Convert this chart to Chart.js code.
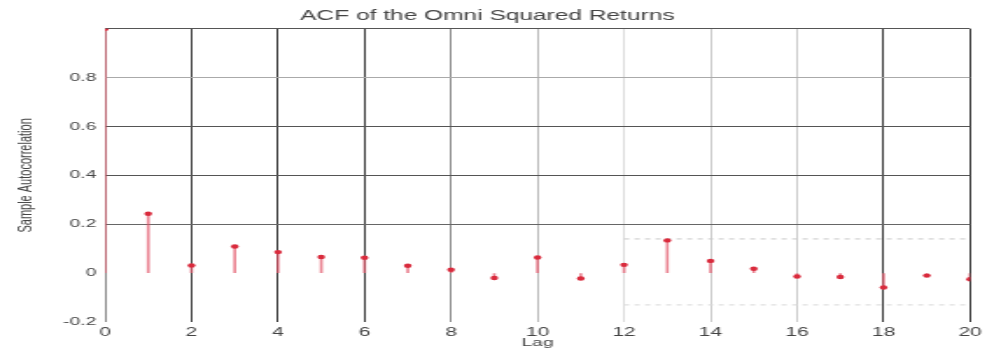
<!DOCTYPE html>
<html>
<head>
<meta charset="utf-8">
<script src="https://cdn.jsdelivr.net/npm/chart.js@4/dist/chart.umd.min.js"></script>
<style>
    body { margin: 0; background: #fff; }
    /* the figure is drawn narrow and stretched sideways */
    #acf { width: 987px !important; height: 355px !important; display: block; }
</style>
</head>
<body>
<canvas id="acf" width="564" height="355"></canvas>
<script>
// sample autocorrelation of the squared returns, lags 0..20
const lags = [0, 1, 2, 3, 4, 5, 6, 7, 8, 9, 10, 11, 12, 13, 14, 15, 16, 17, 18, 19, 20];
const acf = [1.0, 0.243, 0.031, 0.109, 0.086, 0.066, 0.063, 0.030, 0.014, -0.020, 0.064,
    -0.022, 0.034, 0.134, 0.050, 0.018, -0.014, -0.016, -0.059, -0.010, -0.025];

// confidence bounds, only the right part is visible
const boundLags = [12, 20];
const boundUpper = 0.14;
const boundLower = -0.13;

// axis ticks
const xTicks = [0, 2, 4, 6, 8, 10, 12, 14, 16, 18, 20];
const yTicks = [-0.2, 0, 0.2, 0.4, 0.6, 0.8, 1.0];
const yTickLabels = ['-0.2', '0', '0.2', '0.4', '0.6', '0.8', ''];

// grid line shades per tick
const xGridColors = ['#888', '#3a3a3a', '#3a3a3a', '#3a3a3a', '#888', '#bbb', '#ddd', '#ccc', '#ccc', '#3a3a3a', '#3a3a3a'];
const yGridColors = ['rgba(0,0,0,0)', 'rgba(0,0,0,0)', '#666', '#555', '#555', '#aaa', '#555'];

const stemColor = 'rgba(225, 80, 100, 0.7)';
const dotColor = '#d92a3c';

function tickIndex(list, v) {
    return list.findIndex(t => Math.abs(t - v) < 1e-6);
}

function gridColor(list, colors) {
    return function(c) {
        if (!c.tick) return '#ccc';
        return colors[tickIndex(list, c.tick.value)] || '#ccc';
    };
}

const ctx = document.getElementById('acf');
new Chart(ctx, {
    type: 'scatter',
    data: {
        datasets: [
            {
                // stems from zero to each value
                type: 'bar',
                data: lags.map((l, i) => ({x: l, y: acf[i]})),
                backgroundColor: stemColor,
                borderWidth: 0,
                barThickness: 1,
                order: 2
            },
            {
                type: 'scatter',
                data: lags.map((l, i) => ({x: l, y: acf[i]})),
                backgroundColor: dotColor,
                borderColor: dotColor,
                pointRadius: 2.2,
                pointBorderWidth: 0,
                order: 1
            },
            {
                type: 'line',
                data: boundLags.map(l => ({x: l, y: boundUpper})),
                borderColor: '#c8c8c8',
                borderWidth: 1,
                borderDash: [3, 3],
                pointRadius: 0,
                order: 3
            },
            {
                type: 'line',
                data: boundLags.map(l => ({x: l, y: boundLower})),
                borderColor: '#d8d8d8',
                borderWidth: 1,
                borderDash: [3, 3],
                pointRadius: 0,
                order: 3
            }
        ]
    },
    options: {
        responsive: false,
        devicePixelRatio: 1,
        animation: false,
        layout: { padding: { left: 0, right: 7, top: 0, bottom: 0 } },
        plugins: {
            legend: { display: false },
            tooltip: { enabled: false },
            title: {
                display: true,
                text: 'ACF of the Omni Squared Returns',
                color: '#444',
                font: { family: 'Liberation Sans', size: 14, weight: 'normal' },
                padding: { top: 8, bottom: 4 }
            }
        },
        scales: {
            x: {
                type: 'linear',
                min: 0,
                max: 20,
                offset: false,
                afterBuildTicks: scale => { scale.ticks = xTicks.map(v => ({value: v})); },
                afterFit: scale => { scale.height = 33; },
                border: { display: false },
                grid: {
                    offset: false,
                    drawTicks: false,
                    lineWidth: 1,
                    color: gridColor(xTicks, xGridColors)
                },
                ticks: {
                    color: '#444',
                    padding: 3,
                    maxRotation: 0,
                    font: { family: 'Liberation Sans', size: 12 }
                },
                title: {
                    display: true,
                    text: 'Lag',
                    color: '#444',
                    font: { family: 'Liberation Sans', size: 11 },
                    padding: { top: 0, bottom: 5 }
                }
            },
            y: {
                min: -0.2,
                max: 1.0,
                afterBuildTicks: scale => { scale.ticks = yTicks.map(v => ({value: v})); },
                afterFit: scale => { scale.width = 60; },
                border: { display: false },
                grid: {
                    drawTicks: false,
                    lineWidth: 1,
                    color: gridColor(yTicks, yGridColors)
                },
                ticks: {
                    color: '#444',
                    padding: 5,
                    font: { family: 'Liberation Sans', size: 11 },
                    callback: v => yTickLabels[tickIndex(yTicks, v)]
                },
                title: {
                    display: true,
                    text: 'Sample Autocorrelation',
                    color: '#444',
                    font: { family: 'Liberation Sans', size: 11 },
                    padding: { top: 8, bottom: 0 }
                }
            }
        }
    }
});
</script>
</body>
</html>
